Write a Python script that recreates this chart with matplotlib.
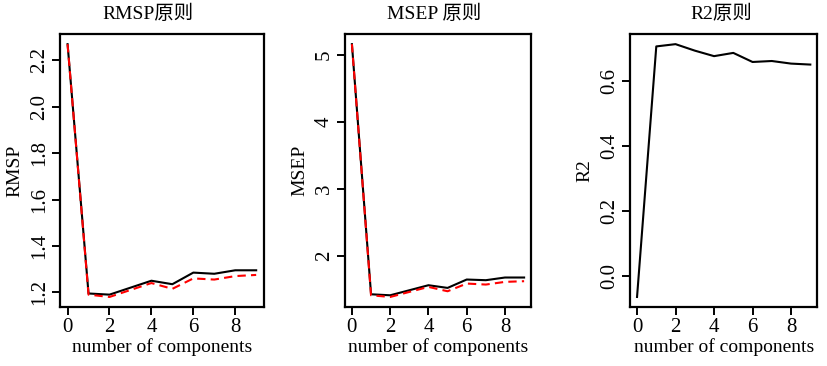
import matplotlib
matplotlib.use('Agg')
import matplotlib.pyplot as plt

plt.rcParams['font.family'] = ['Liberation Serif', 'Noto Sans CJK SC']
plt.rcParams['font.size'] = 14

ncomp = [0, 1, 2, 3, 4, 5, 6, 7, 8, 9]

# RMSP: CV (black) and adjCV (red dashed)
rmsp_cv = [2.27, 1.195, 1.19, 1.22, 1.25, 1.235, 1.285, 1.28, 1.295, 1.295]
rmsp_adj = [2.27, 1.19, 1.18, 1.21, 1.24, 1.215, 1.26, 1.255, 1.27, 1.275]

# MSEP
msep_cv = [5.16, 1.43, 1.415, 1.49, 1.565, 1.525, 1.65, 1.64, 1.68, 1.68]
msep_adj = [5.16, 1.415, 1.39, 1.465, 1.54, 1.475, 1.59, 1.575, 1.615, 1.625]

# R2
r2 = [-0.065, 0.708, 0.715, 0.695, 0.678, 0.688, 0.66, 0.663, 0.655, 0.652]

panels = [
    dict(title='RMSP原则', title_x=0.43, ylabel='RMSP', lines=[rmsp_cv, rmsp_adj],
         yticks=[1.2, 1.4, 1.6, 1.8, 2.0, 2.2], fmt='{:.1f}',
         rect=[0.0725, 0.161, 0.246, 0.746]),
    dict(title='MSEP 原则', title_x=0.48, ylabel='MSEP', lines=[msep_cv, msep_adj],
         yticks=[2, 3, 4, 5], fmt='{:d}',
         rect=[0.4167, 0.161, 0.2246, 0.746]),
    dict(title='R2原则', title_x=0.49, ylabel='R2', lines=[r2],
         yticks=[0.0, 0.2, 0.4, 0.6], fmt='{:.1f}',
         rect=[0.761, 0.161, 0.226, 0.746]),
]

fig = plt.figure(figsize=(8.28, 3.66), dpi=100)

for p in panels:
    ax = fig.add_axes(p['rect'])
    ax.plot(ncomp, p['lines'][0], color='black', lw=1.5)
    if len(p['lines']) > 1:
        ax.plot(ncomp, p['lines'][1], color='red', lw=1.5, ls=(0, (4, 2.5)))
    ax.margins(x=0.04, y=0.04)
    ax.set_xticks([0, 2, 4, 6, 8])
    ax.set_yticks(p['yticks'])
    ax.set_yticklabels([p['fmt'].format(v) for v in p['yticks']],
                       rotation=90, va='center')
    ax.tick_params(direction='out', length=6, width=1.4, pad=2, labelsize=15)
    for s in ax.spines.values():
        s.set_linewidth(1.6)
    ax.set_title(p['title'], fontsize=14, pad=11, x=p['title_x'])
    ax.set_xlabel('number of components', fontsize=14, labelpad=1)
    ax.set_ylabel(p['ylabel'], fontsize=14, labelpad=5)

fig.savefig('out.png', dpi=100)
